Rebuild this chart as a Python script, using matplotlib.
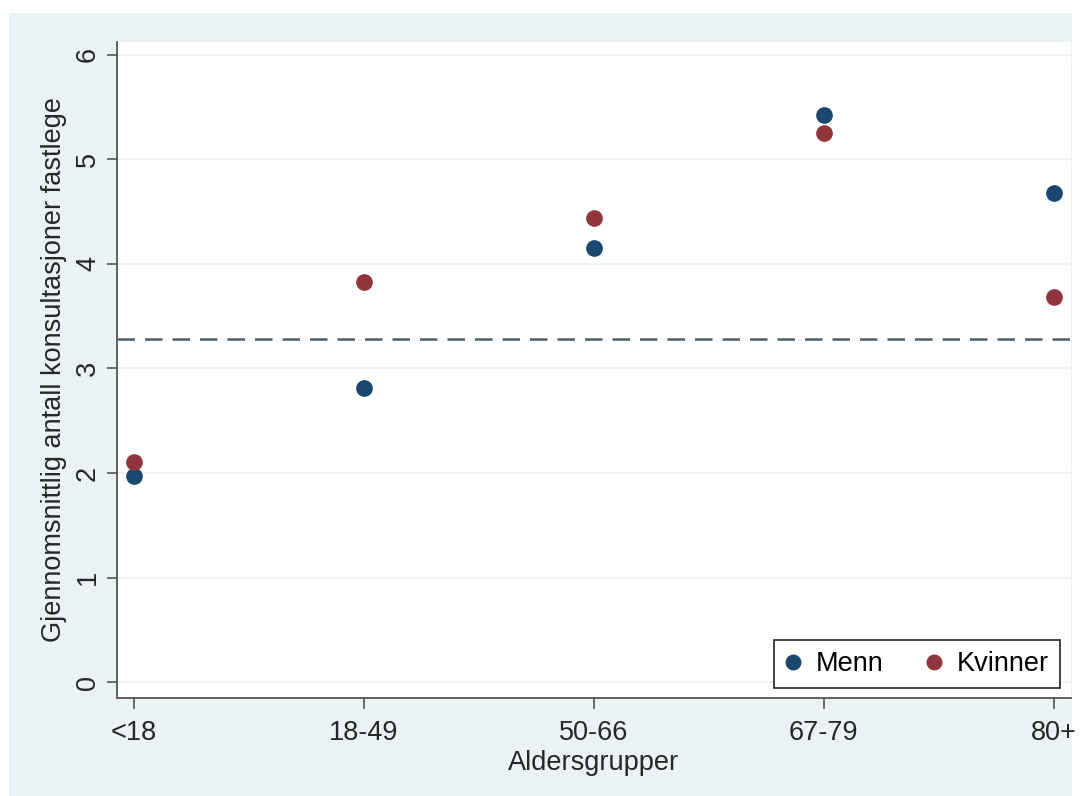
import matplotlib
matplotlib.use('Agg')
import matplotlib.pyplot as plt
from matplotlib.patches import Rectangle

plt.rcParams['font.family'] = ['Liberation Sans', 'DejaVu Sans']

groups = ["<18", "18-49", "50-66", "67-79", "80+"]
menn = [1.97, 2.81, 4.15, 5.42, 4.68]
kvinner = [2.11, 3.83, 4.44, 5.25, 3.68]
snitt = 3.28

navy = "#1a476f"
maroon = "#90353b"
bg = "#eaf2f3"
fs = 19.5

fig = plt.figure(figsize=(10.82, 7.96), dpi=100, facecolor="white")
# light outer background (Stata style), white strip on top/left/right
fig.patches.append(Rectangle((9 / 1082, 0), 1063 / 1082, 783 / 796,
                             transform=fig.transFigure, facecolor=bg,
                             edgecolor="none", zorder=-10))

ax = fig.add_axes([117 / 1082, 1 - 698 / 796, (1071 - 117) / 1082, (698 - 42) / 796])
ax.set_facecolor("white")

x = list(range(len(groups)))
ax.plot(x, menn, "o", color=navy, markersize=11, label="Menn", zorder=3)
ax.plot(x, kvinner, "o", color=maroon, markersize=11, label="Kvinner", zorder=3)
ax.axhline(snitt, color="#4f5d6b", linestyle=(0, (7, 4)), linewidth=1.8, zorder=2)

ax.set_xlim(-0.074, 4.075)
ax.set_ylim(-0.15, 6.12)
ax.set_xticks(x)
ax.set_xticklabels(groups)
ax.set_yticks(range(7))
ax.set_yticklabels([str(i) for i in range(7)], rotation=90, va="center")

ax.grid(axis="y", color="#eef3f3", linewidth=1.5, zorder=0)
ax.set_axisbelow(True)

for s in ["top", "right"]:
    ax.spines[s].set_visible(False)
for s in ["left", "bottom"]:
    ax.spines[s].set_color("#555555")
    ax.spines[s].set_linewidth(1.3)
ax.tick_params(colors="#555555", labelcolor="#262626", labelsize=fs, width=1.2)
ax.tick_params(axis="x", length=8, pad=8)
ax.tick_params(axis="y", length=7, pad=4.5)

ax.set_xlabel("Aldersgrupper", fontsize=fs, color="#262626", labelpad=3)
ax.set_ylabel("Gjennomsnittlig antall konsultasjoner fastlege", fontsize=fs,
              color="#262626", labelpad=6)

leg = ax.legend(loc="lower right", ncol=2, fontsize=fs, frameon=True,
                fancybox=False, edgecolor="#222222", framealpha=1,
                handletextpad=0.55, columnspacing=1.55, borderpad=0.4,
                handlelength=0.6, markerscale=0.95, borderaxespad=0,
                bbox_to_anchor=(0.9885, 0.0152))
leg.get_frame().set_linewidth(1.2)

fig.savefig("out.png", dpi=100, facecolor="white")
